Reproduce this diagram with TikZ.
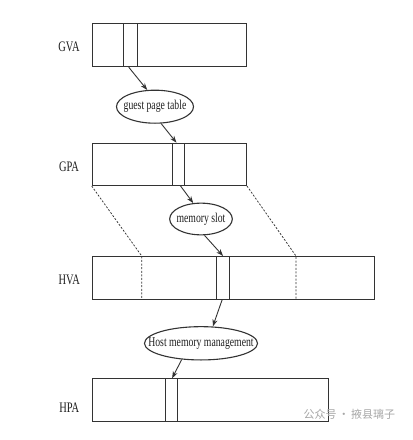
\documentclass[tikz,border=0pt]{standalone}
\usepackage{fontspec}
\setmainfont{Liberation Serif}
\newfontfamily\cf{Liberation Serif}[FakeStretch=0.72]
\newfontfamily\cjk{Noto Sans CJK SC}
\usetikzlibrary{arrows.meta,shapes.geometric}
\definecolor{ln}{HTML}{333333}
\definecolor{tx}{HTML}{1E1E1E}
\tikzset{
  every picture/.style={x=1pt,y=-1pt},
  membox/.style={draw=ln, line width=1pt, rectangle, inner sep=0pt, minimum height=43pt},
  stripe/.style={draw=ln, line width=0.9pt, rectangle, inner sep=0pt, minimum height=43pt},
  ell/.style={draw=ln, line width=1.1pt, ellipse, inner sep=0pt, text=tx, font=\cf\fontsize{13.5}{16}\selectfont},
  lab/.style={text=tx, font=\cf\fontsize{14.5}{16}\selectfont},
  arr/.style={draw=ln, line width=0.9pt, -{Stealth[length=7pt,width=5pt]}},
  dsh/.style={draw=ln, line width=0.75pt, dash pattern=on 2pt off 1.6pt},
}
\begin{document}
\begin{tikzpicture}
\useasboundingbox (0,0) rectangle (413,440);
% boxes
\node[membox, minimum width=154.3pt, anchor=north west] (gva) at (91.7,23.3) {};
\node[stripe, minimum width=13.4pt, anchor=north west] (gvas) at (123.3,23.3) {};
\node[lab] (gval) at (69,46.7) {GVA};

\node[membox, minimum width=154.3pt, minimum height=42.3pt, anchor=north west] (gpa) at (91.7,142.7) {};
\node[stripe, minimum width=12.3pt, minimum height=42.3pt, anchor=north west] (gpas) at (171.7,142.7) {};
\node[lab] (gpal) at (69,166.7) {GPA};

\node[membox, minimum width=282.6pt, anchor=north west] (hva) at (91.7,256) {};
\node[stripe, minimum width=13.3pt, anchor=north west] (hvas) at (216,256) {};
\node[lab] (hval) at (69.3,280) {HVA};

\node[membox, minimum width=236.6pt, anchor=north west] (hpa) at (91.7,378.3) {};
\node[stripe, minimum width=12.3pt, anchor=north west] (hpas) at (165,378.3) {};
\node[lab] (hpal) at (69.3,407.3) {HPA};

% ellipses
\node[ell, minimum width=77pt, minimum height=33pt] (gpt) at (155,106.7) {\makebox[0pt]{guest page table}};
\node[ell, minimum width=62.6pt, minimum height=31.7pt] (ms) at (201,219) {\makebox[0pt]{memory slot}};
\node[ell, minimum width=113pt, minimum height=33.3pt] (hmm) at (201,343.3) {\makebox[0pt]{Host memory management}};

% dashed mapping
\coordinate (d1) at (141.7,256);
\coordinate (d1b) at (141.7,299);
\coordinate (d2) at (296,256);
\coordinate (d2b) at (296,299);
\draw[dsh] (gpa.south west) -- (d1) -- (d1b);
\draw[dsh] (gpa.south east) -- (d2) -- (d2b);

% arrows
\draw[arr] ([xshift=-1.7pt]gvas.south) -- (gpt.115);
\draw[arr] (gpt.-70) -- ([xshift=-1.8pt]gpas.north);
\draw[arr] ([xshift=2.2pt]gpas.south) -- (ms.116);
\draw[arr] (ms.-78) -- (hvas.north);
\draw[arr] ([xshift=-1pt]hvas.south) -- (hmm.55);
\draw[arr] (hmm.-140) -- ([xshift=0.5pt]hpas.north);

% watermark
\node[text=black!35, font=\cjk\fontsize{11}{13}\selectfont, anchor=west] (wm) at (300,414.3) {公众号\,·\,掖县璃子};
\end{tikzpicture}
\end{document}
